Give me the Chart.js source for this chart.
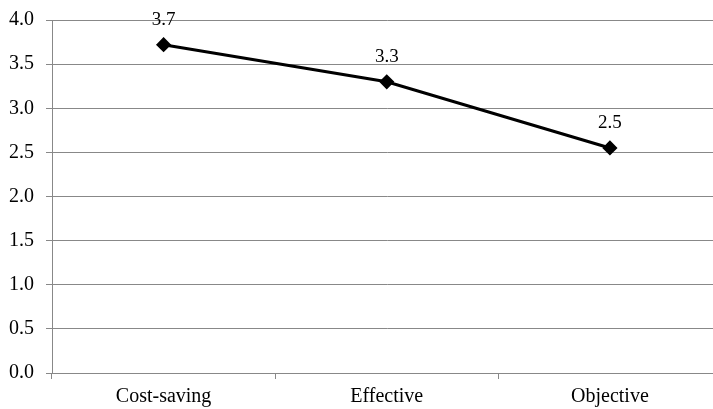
<!DOCTYPE html>
<html><head><meta charset="utf-8">
<script src="https://cdn.jsdelivr.net/npm/chart.js@4/dist/chart.umd.min.js"></script>
<style>html,body{margin:0;padding:0;background:#fff;overflow:hidden}#wrap{width:713px;height:409px;overflow:hidden}canvas{display:block}</style>
</head><body>
<div id="wrap"><canvas id="c" width="730" height="409"></canvas></div>
<script>
const categories = ["Cost-saving", "Effective", "Objective"];
const values = [3.72, 3.30, 2.55];
const pointLabels = ["3.7", "3.3", "2.5"];
const yTicks = [0, 0.5, 1, 1.5, 2, 2.5, 3, 3.5, 4];

const FONT = '"Liberation Serif", "Times New Roman", serif';

const labelPlugin = {
  id: 'pointLabels',
  afterDatasetsDraw(chart) {
    const ctx = chart.ctx;
    const meta = chart.getDatasetMeta(0);
    ctx.save();
    ctx.font = '19px ' + FONT;
    ctx.fillStyle = '#000';
    ctx.textAlign = 'center';
    ctx.textBaseline = 'alphabetic';
    meta.data.forEach((pt, i) => {
      ctx.fillText(pointLabels[i], pt.x, pt.y - 20);
    });
    ctx.restore();
  }
};

new Chart(document.getElementById('c'), {
  type: 'line',
  data: {
    labels: categories,
    datasets: [{
      data: values,
      borderColor: '#000',
      backgroundColor: '#000',
      borderWidth: 3,
      pointStyle: 'rectRot',
      pointRadius: 5.5,
      pointHoverRadius: 5.5,
      tension: 0
    }]
  },
  options: {
    responsive: false,
    animation: false,
    devicePixelRatio: 1,
    layout: { padding: { top: 20, right: 0, left: 0, bottom: 0 } },
    plugins: { legend: { display: false }, tooltip: { enabled: false } },
    scales: {
      x: {
        offset: true,
        grid: { display: true, drawOnChartArea: false, drawTicks: true, tickLength: 6, color: '#888', offset: true },
        border: { display: true, color: '#888', width: 1 },
        ticks: { color: '#000', font: { family: FONT, size: 20 }, padding: 6 },
        afterFit(s) { s.height = 36; }
      },
      y: {
        min: 0, max: 4,
        afterBuildTicks(s) { s.ticks = yTicks.map(v => ({ value: v })); },
        grid: { color: '#888', lineWidth: 1, tickLength: 6 },
        border: { display: true, color: '#888', width: 1 },
        ticks: {
          color: '#000',
          font: { family: FONT, size: 20 },
          padding: 12,
          callback: v => Number(v).toFixed(1)
        },
        afterFit(s) { s.width = 52; s.paddingTop = 0; s.paddingBottom = 0; }
      }
    }
  },
  plugins: [labelPlugin]
});
</script>
</body></html>
